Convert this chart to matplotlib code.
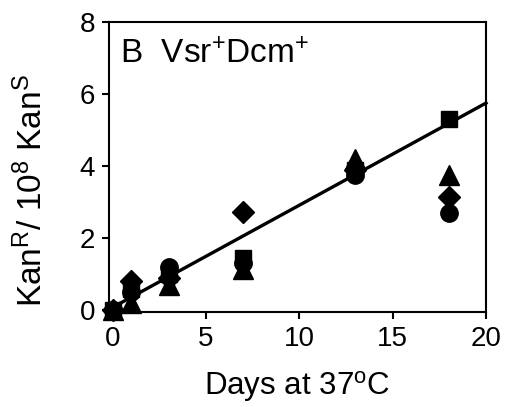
import matplotlib
matplotlib.use("Agg")
import matplotlib.pyplot as plt

plt.rcParams['font.family'] = ['Liberation Sans', 'DejaVu Sans']
plt.rcParams['mathtext.fontset'] = 'custom'
plt.rcParams['mathtext.rm'] = 'Liberation Sans'
plt.rcParams['mathtext.it'] = 'Liberation Sans'

days = [0, 1, 3, 7, 13, 18]
squares = [0.0, 0.6, 1.0, 1.45, 3.9, 5.3]
triangles = [0.0, 0.2, 0.7, 1.15, 4.2, 3.75]
diamonds = [0.0, 0.8, 0.9, 2.72, 3.9, 3.15]
circles = [0.0, 0.5, 1.2, 1.3, 3.75, 2.7]
fit_x = [0, 20]
fit_y = [0.08, 5.75]

fig = plt.figure(figsize=(5.05, 4.07), dpi=100)
ax = fig.add_axes([109/505, 1-312/407, (486-109)/505, (312-22)/407])

ax.plot(fit_x, fit_y, color='black', lw=2.4, zorder=2, clip_on=False)
ax.plot(days, circles, 'o', color='black', ms=12.5, clip_on=False, zorder=3)
ax.plot(days, diamonds, 'D', color='black', ms=11, clip_on=False, zorder=3)
ax.plot(days, triangles, '^', color='black', ms=14, clip_on=False, zorder=3)
ax.plot(days, squares, 's', color='black', ms=11, clip_on=False, zorder=3)

ax.set_xlim(-0.2, 20)
ax.set_ylim(-0.05, 8)
ax.set_xticks([0, 5, 10, 15, 20])
ax.set_yticks([0, 2, 4, 6, 8])
ax.tick_params(labelsize=20, width=1.5, length=5, direction='out', pad=5)
for s in ax.spines.values():
    s.set_linewidth(1.5)

ax.set_xlabel('Days at 37$^{\\mathrm{o}}$C', fontsize=22.5, labelpad=12)
ax.set_ylabel('Kan$^{\\mathrm{R}}$/ 10$^{8}$ Kan$^{\\mathrm{S}}$', fontsize=24)
ax.yaxis.set_label_coords(-0.16, 0.42)
ax.text(0.03, 0.94, 'B  Vsr$^{+}$Dcm$^{+}$', transform=ax.transAxes, fontsize=24,
        va='top', ha='left')

fig.savefig('out.png', dpi=100)
